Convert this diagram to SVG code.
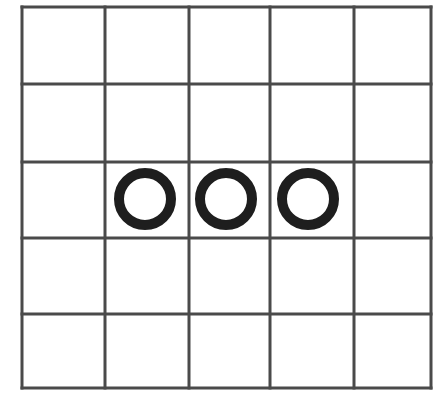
<svg xmlns="http://www.w3.org/2000/svg" width="437" height="395" viewBox="0 0 437 395">
<style>
.grid line{stroke:#4a4a4a;stroke-width:3;stroke-linecap:square}
.ring{fill:none;stroke:#1e1e1e;stroke-width:10}
</style>
<rect width="437" height="395" fill="#fff"/>
<g id="grid" class="grid">
<line x1="22" y1="7" x2="22" y2="388"/>
<line x1="105" y1="7" x2="105" y2="388"/>
<line x1="189" y1="7" x2="189" y2="388"/>
<line x1="270" y1="7" x2="270" y2="388"/>
<line x1="354" y1="7" x2="354" y2="388"/>
<line x1="431" y1="7" x2="431" y2="388"/>
<line x1="22" y1="7" x2="431" y2="7"/>
<line x1="22" y1="84" x2="431" y2="84"/>
<line x1="22" y1="162" x2="431" y2="162"/>
<line x1="22" y1="238" x2="431" y2="238"/>
<line x1="22" y1="314" x2="431" y2="314"/>
<line x1="22" y1="388" x2="431" y2="388"/>
</g>
<g id="circle1"><circle class="ring" cx="145" cy="199" r="26"/></g>
<g id="circle2"><circle class="ring" cx="226" cy="199" r="26"/></g>
<g id="circle3"><circle class="ring" cx="308" cy="199" r="26"/></g>
</svg>
